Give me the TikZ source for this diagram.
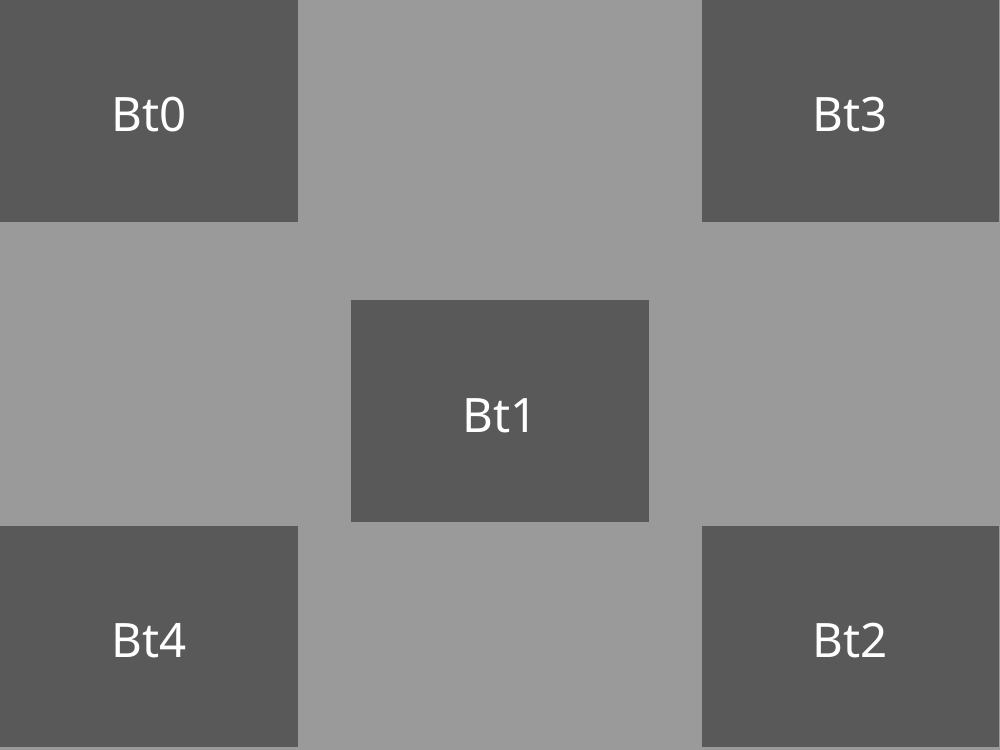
\documentclass[tikz,border=0pt]{standalone}
\usepackage{fontspec}
\setmainfont{Noto Sans}
\usepackage{tikz}
\usetikzlibrary{positioning}
\definecolor{bgray}{HTML}{9A9A9A}
\definecolor{dgray}{HTML}{595959}
\tikzstyle{block} = [fill=dgray, rectangle, inner sep=0pt, minimum width=5.96cm, minimum height=4.44cm, text=white, text height=0.84cm, text depth=0pt, font=\fontsize{27}{32}\selectfont]

\begin{document}
\begin{tikzpicture}[x=0.02cm,y=-0.02cm]
  \fill[bgray] (0,0) rectangle (1000,750);
  \useasboundingbox (0,0) rectangle (1000,750);
  \node[block] (bt0) at (149,111) {Bt0};
  \node[block] (bt3) at (850.5,111) {Bt3};
  \node[block] (bt1) at (500,411) {Bt1};
  \node[block] (bt4) at (149,636.5) {Bt4};
  \node[block] (bt2) at (850.5,636.5) {Bt2};
\end{tikzpicture}
\end{document}
